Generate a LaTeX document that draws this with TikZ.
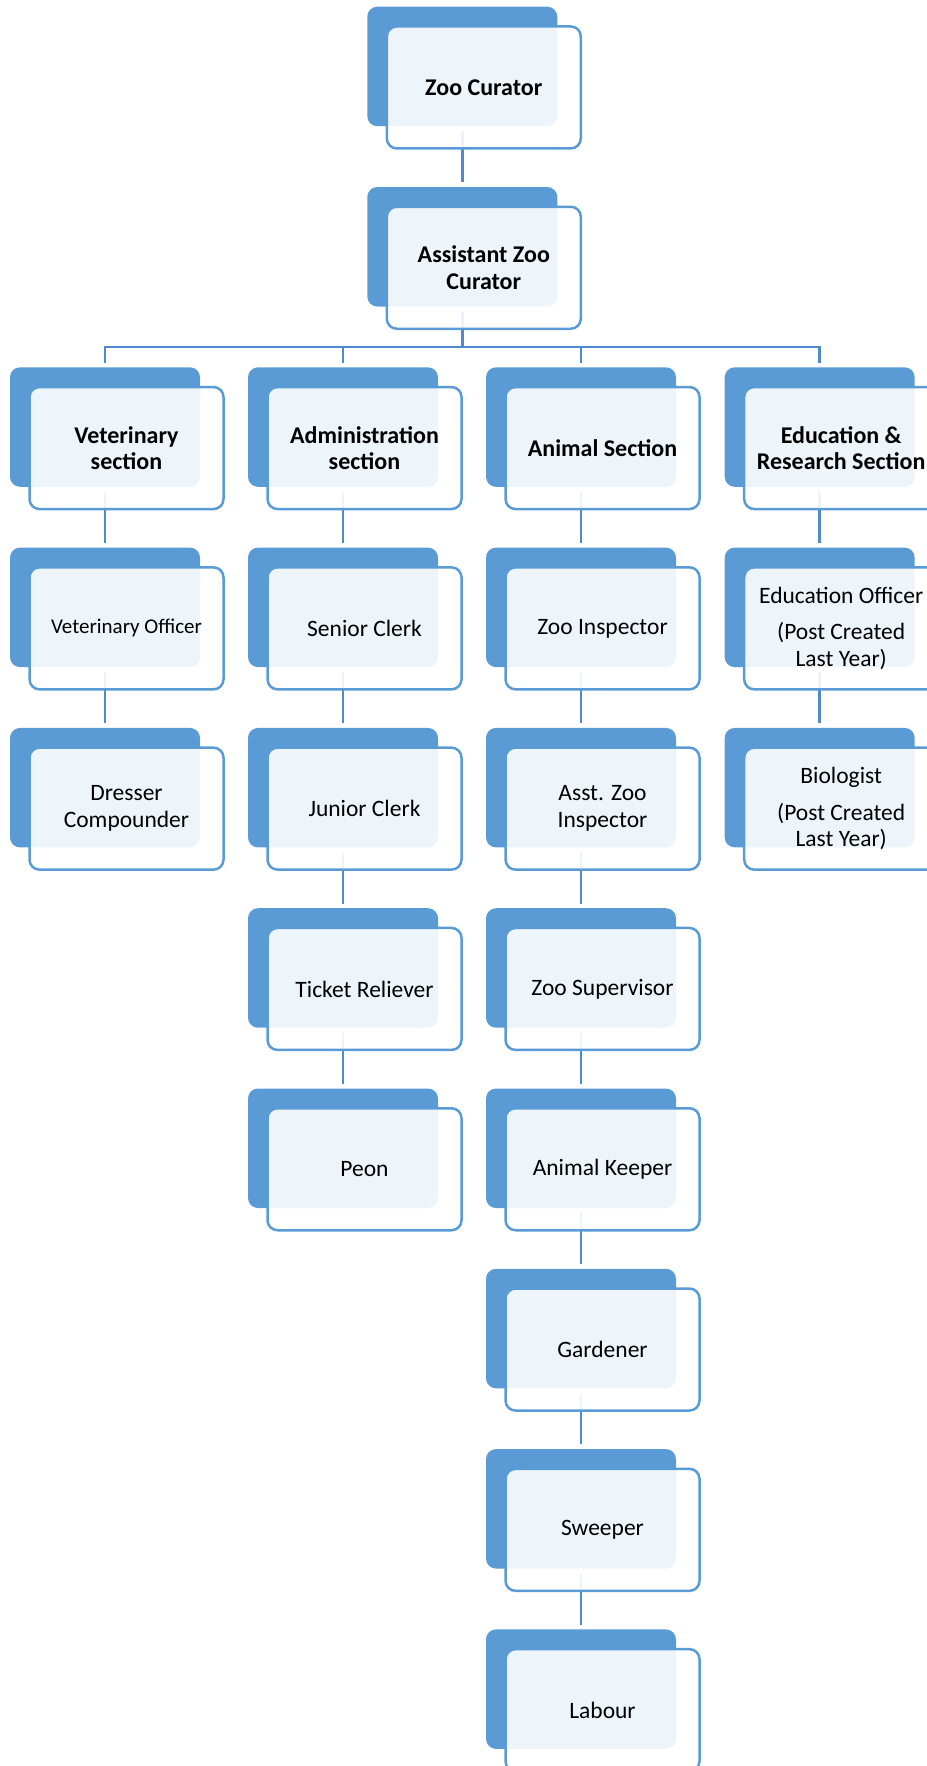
\documentclass[tikz,border=0pt]{standalone}
\usepackage{fontspec}
\setmainfont{Carlito}
\pgfdeclarelayer{bg}
\pgfsetlayers{bg,main}
\definecolor{acc}{HTML}{5B9BD5}
\definecolor{connc}{HTML}{4F8BCB}
\tikzset{
  backbox/.style={fill=acc, draw=none, rounded corners=10pt, minimum width=190pt, minimum height=119.5pt, inner sep=0pt},
  frontbox/.style={fill=white, fill opacity=0.9, text opacity=1, draw=acc, draw opacity=1, line width=2.5pt, rounded corners=10pt, minimum width=194pt, minimum height=122pt, inner sep=0pt, align=center, font=\fontsize{23.5}{26.7}\selectfont},
  hd/.style={font=\fontsize{24}{26.7}\selectfont\bfseries},
  sm/.style={font=\fontsize{21}{24}\selectfont},
  connline/.style={draw=connc, line width=2.5pt}
}
\newcommand{\orgbox}[5][]{%
  \pgfmathsetmacro{\rowtop}{6.7+180.3*#4}%
  \node[backbox] (b-#2) at (#3, \rowtop+59.75) {};
  \node[frontbox,#1] (f-#2) at (#3+21.5, \rowtop+80.75) {#5};
}
\begin{document}
\begin{tikzpicture}[x=1pt,y=-1pt]
\useasboundingbox (0,0) rectangle (926,1766);
% top
\orgbox[hd]{zoo}{462.3}{0}{Zoo Curator}
\orgbox[hd]{asst}{462.3}{1}{Assistant Zoo\\Curator}
% sections
\orgbox[hd]{vet}{105}{2}{Veterinary\\section}
\orgbox[hd]{adm}{343}{2}{Administration\\section}
\orgbox[hd]{ani}{581}{2}{Animal Section}
\orgbox[hd]{edu}{819.7}{2}{Education \&\\Research Section}
% veterinary
\orgbox[sm]{vo}{105}{3}{Veterinary Officer}
\orgbox{dc}{105}{4}{Dresser\\Compounder}
% administration
\orgbox{sc}{343}{3}{Senior Clerk}
\orgbox{jc}{343}{4}{Junior Clerk}
\orgbox{tr}{343}{5}{Ticket Reliever}
\orgbox{peon}{343}{6}{Peon}
% animal
\orgbox{zi}{581}{3}{Zoo Inspector}
\orgbox{azi}{581}{4}{Asst. Zoo\\Inspector}
\orgbox{zs}{581}{5}{Zoo Supervisor}
\orgbox{ak}{581}{6}{Animal Keeper}
\orgbox{gard}{581}{7}{Gardener}
\orgbox{sw}{581}{8}{Sweeper}
\orgbox{lab}{581}{9}{Labour}
% education
\orgbox{eo}{819.7}{3}{Education Officer\\[10pt](Post Created\\Last Year)}
\orgbox{bio}{819.7}{4}{Biologist\\[10pt](Post Created\\Last Year)}
% connectors
\begin{pgfonlayer}{bg}
\coordinate (bus) at (462.3,347);
\foreach \a/\b in {zoo/asst, vet/vo, vo/dc, adm/sc, sc/jc, jc/tr, tr/peon, ani/zi, zi/azi, azi/zs, zs/ak, ak/gard, gard/sw, sw/lab, edu/eo, eo/bio}
  \draw[connline] ([yshift=-5pt]b-\a.south) -- ([yshift=4.5pt]b-\b.north);
\foreach \s in {vet,adm,ani,edu}
  \draw[connline] ([yshift=-5pt]b-asst.south) -- (bus) -| ([yshift=4.5pt]b-\s.north);
\end{pgfonlayer}
\end{tikzpicture}
\end{document}
